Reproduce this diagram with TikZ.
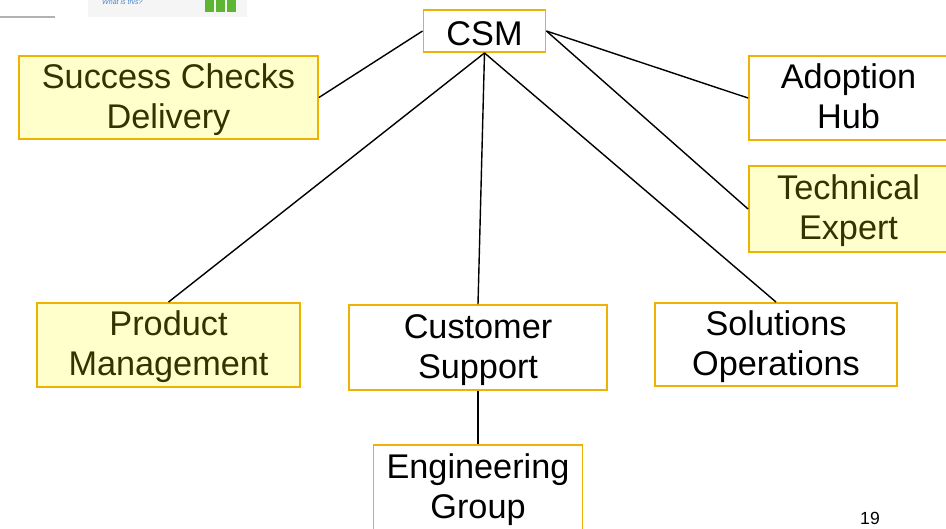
\documentclass[tikz,border=0pt]{standalone}
\usepackage{fontspec}
\setmainfont{Liberation Sans}
\usepackage{xcolor}
\definecolor{boxline}{HTML}{F0B200}
\definecolor{boxfill}{HTML}{FFFFCC}
\definecolor{olivetext}{HTML}{333300}
\definecolor{logogreen}{HTML}{5DB533}
\definecolor{logoblue}{HTML}{4A86C8}
\newcommand{\boxlines}[2][5.2pt]{\raisebox{#1}[0pt][0pt]{\begin{tabular}[t]{@{}c@{}}#2\end{tabular}}}

\begin{document}
\begin{tikzpicture}[x=0.02cm,y=-0.02cm,
    plainbox/.style={draw=boxline,line width=1.1pt,fill=white,align=center,
      inner sep=0pt,font=\fontsize{19.5}{22.7}\selectfont},
    yellowbox/.style={plainbox,fill=boxfill,text=olivetext},
    link/.style={line width=0.8pt}]
      \useasboundingbox(0,0)rectangle(946,528);
      \clip(0,0)rectangle(946,528);
      % cut logo at the top left
      \draw[gray!60,line width=1pt](0,17)--(55,17);
      \fill[gray!8](88,-2)rectangle(247,17);
      \node[anchor=west,text=logoblue,font=\fontsize{4}{4}\selectfont\itshape] (what) at (96,2){What is this?};
      \foreach \i in {0,1,2}
        \fill[logogreen](205+\i*11,-2)rectangle(214+\i*11,12);
      % boxes
      \node[plainbox,minimum width=2.44cm,minimum height=0.84cm] (csm) at (484.5,31){\boxlines[-8.1pt]{CSM}};
      \node[yellowbox,minimum width=5.98cm,minimum height=1.66cm] (scd) at (168.5,97.5){\boxlines{Success Checks\\Delivery}};
      \node[plainbox,minimum width=3.98cm,minimum height=1.68cm] (hub) at (848.5,98){\boxlines{Adoption\\Hub}};
      \node[yellowbox,minimum width=3.98cm,minimum height=1.72cm] (tech) at (848.5,209){\boxlines{Technical\\Expert}};
      \node[yellowbox,minimum width=5.26cm,minimum height=1.68cm] (prod) at (168.5,345){\boxlines{Product\\Management}};
      \node[plainbox,minimum width=5.16cm,minimum height=1.70cm] (cust) at (478,347.5){\boxlines{Customer\\Support}};
      \node[plainbox,minimum width=4.84cm,minimum height=1.66cm] (sol) at (776,344.5){\boxlines{Solutions\\Operations}};
      \node[plainbox,minimum width=4.18cm,minimum height=1.72cm] (eng) at (478,488){\boxlines{Engineering\\Group}};
      % connectors
      \draw[link](csm.west)--(scd.east);
      \draw[link](csm.east)--(hub.west);
      \draw[link](csm.east)--(tech.west);
      \draw[link](csm.south)--(prod.north);
      \draw[link](csm.south)--(cust.north);
      \draw[link](csm.south)--(sol.north);
      \draw[link](cust.south)--(eng.north);
      % page number
      \node[font=\fontsize{10}{10}\selectfont] (page) at (870,518){19};
    \end{tikzpicture}
\end{document}
